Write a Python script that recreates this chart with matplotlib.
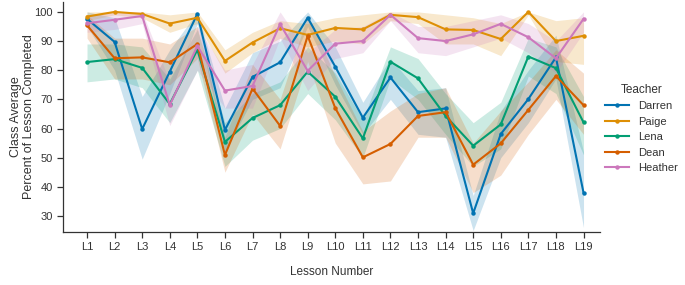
import numpy as np
import matplotlib.pyplot as plt

plt.rcParams['font.family'] = ['Liberation Sans', 'DejaVu Sans']

# ── Data ────────────────────────────────────────────────────────────────────
lessons = [f"L{i}" for i in range(1, 20)]
teachers = ["Darren", "Paige", "Lena", "Dean", "Heather"]
colors = ["#0173b2", "#de8f05", "#029e73", "#d55e00", "#cc78bc"]

darren = [97.6, 89.7, 59.8, 79.5, 99.3, 59.5, 77.7, 82.7, 98.0, 81.2,
          63.7, 77.5, 65.6, 66.9, 30.9, 58.1, 70.1, 84.4, 38.0]
darren_lo = [95, 80, 49.5, 72, 96, 52, 70, 74, 95, 75,
             58, 70, 58, 57, 25, 50, 62, 77, 26]
darren_hi = [100, 98, 71, 87, 100, 67, 86, 90, 100, 88,
             69, 84, 73, 74, 37, 66, 80, 92, 52]

paige = [98.4, 100.0, 99.3, 96.0, 98.0, 83.2, 89.5, 94.4, 92.1, 94.5,
         94.0, 99.0, 98.2, 94.0, 93.8, 90.7, 100.0, 90.0, 91.8]
paige_lo = [97, 99, 98, 93, 96, 79, 86, 91, 88, 90,
            89, 97, 96, 89, 89, 85, 99, 83, 82]
paige_hi = [100, 100, 100, 99, 100, 87, 93, 97, 96, 98,
            99, 100, 100, 99, 98, 96, 100, 97, 98]

lena = [82.8, 83.8, 80.8, 68.4, 87.0, 55.4, 63.6, 68.0, 79.5, 70.9,
        56.6, 82.9, 77.2, 64.3, 54.1, 61.4, 84.7, 80.7, 62.1]
lena_lo = [76, 77, 74, 62, 80, 47, 56, 60, 72, 63,
           50, 77, 70, 58, 47, 53, 78, 72, 51]
lena_hi = [89, 89, 88, 77, 94, 62, 72, 76, 88, 79,
           63, 88, 84, 72, 62, 69, 91, 88, 71]

dean = [95.4, 84.1, 84.4, 82.7, 89.0, 50.9, 73.7, 60.9, 91.8, 67.0,
        50.1, 54.7, 64.3, 65.6, 47.6, 54.9, 66.4, 78.0, 68.0]
dean_lo = [91, 77, 77, 75, 84, 45, 65, 53, 83, 55,
           41, 42, 57, 57, 38, 44, 58, 70, 58]
dean_hi = [99, 91, 91, 89, 95, 57, 82, 70, 99, 78,
           59, 66, 72, 74, 55, 66, 76, 87, 79]

heather = [96.1, 97.3, 98.6, 68.0, 88.3, 73.0, 74.6, 95.8, 79.8, 89.1,
           90.0, 99.0, 91.0, 90.0, 92.3, 95.9, 91.3, 84.1, 97.6]
heather_lo = [93, 94, 96, 61, 80, 67, 67, 91, 73, 84,
              86, 97, 86, 85, 88, 91, 86, 79, 93]
heather_hi = [99, 100, 100, 76, 95, 80, 82, 100, 86, 94,
              95, 100, 95, 95, 97, 99, 96, 90, 100]

means = [darren, paige, lena, dean, heather]
lows = [darren_lo, paige_lo, lena_lo, dean_lo, heather_lo]
highs = [darren_hi, paige_hi, lena_hi, dean_hi, heather_hi]

# ── Plot ─────────────────────────────────────────────────────────────────────
fig = plt.figure(figsize=(6.85, 2.85), dpi=100)
ax = fig.add_axes([0.092, 0.186, 0.784, 0.807])

x = np.arange(len(lessons))
for name, col, m, lo, hi in zip(teachers, colors, means, lows, highs):
    ax.fill_between(x, lo, hi, color=col, alpha=0.2, linewidth=0)
    ax.plot(x, m, color=col, linewidth=1.5, marker="o", markersize=2.2, label=name)

ax.set_xticks(x)
ax.set_xticklabels(lessons)
ax.set_yticks([30, 40, 50, 60, 70, 80, 90, 100])
ax.set_xlim(-0.87, 18.6)
ax.set_ylim(24.5, 103.4)

for side in ["top", "right"]:
    ax.spines[side].set_visible(False)
for side in ["left", "bottom"]:
    ax.spines[side].set_color("#333333")
    ax.spines[side].set_linewidth(0.9)
ax.tick_params(colors="#333333", labelsize=8, length=4, width=0.9)

ax.set_xlabel("Lesson Number", fontsize=8.5, color="#333333", labelpad=10)
ax.set_ylabel("Class Average\nPercent of Lesson Completed", fontsize=9,
              color="#333333", labelpad=-1)

leg = ax.legend(title="Teacher", loc="center left", bbox_to_anchor=(0.99, 0.45),
                frameon=False, fontsize=8, title_fontsize=8.5,
                handlelength=2.2, labelspacing=0.5)
for t in leg.get_texts():
    t.set_color("#333333")
leg.get_title().set_color("#333333")

plt.savefig("out.png", dpi=100)
plt.close()
